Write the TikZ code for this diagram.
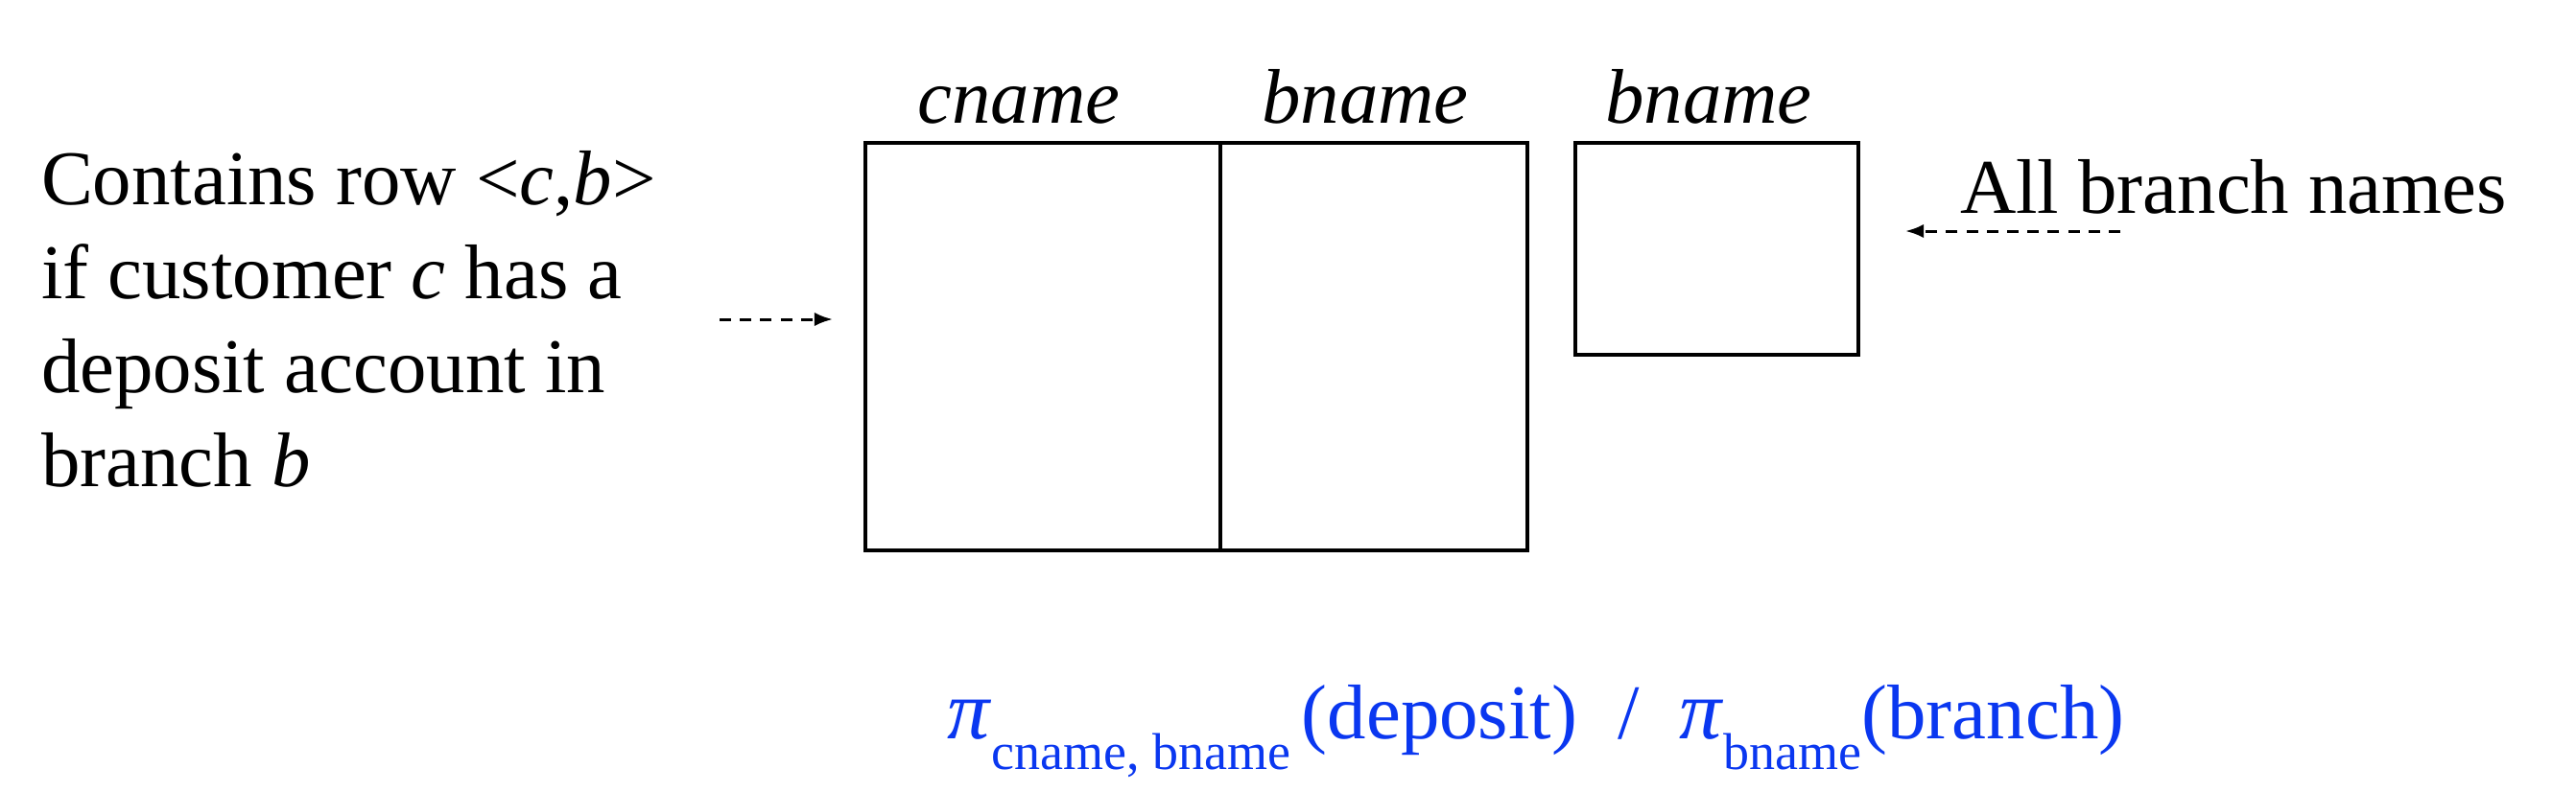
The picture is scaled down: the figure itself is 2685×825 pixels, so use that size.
\documentclass[tikz,border=0pt]{standalone}
\usepackage{fontspec}
\setmainfont{Liberation Serif}
\usetikzlibrary{arrows.meta}
\definecolor{formulablue}{RGB}{10,55,240}
\newcommand{\bigpi}{{\fontsize{22pt}{22pt}\selectfont\textit{π}}}
\tikzset{
  txt/.style={inner sep=0pt, outer sep=0pt, font=\fontsize{20.2pt}{24.5pt}\selectfont},
  col/.style={draw, line width=0.85pt, inner sep=0pt, outer sep=0pt},
  hint/.style={dashed, dash pattern=on 3pt off 2.3pt, line width=0.75pt, -{Latex[length=4.8pt,width=3.6pt]}}
}
\begin{document}
\begin{tikzpicture}[x=0.25pt, y=-0.25pt]
\useasboundingbox (0,0) rectangle (2685,825);
% left explanation
\node[txt, anchor=base west] (l1) at (43,213) {Contains row <\textit{c},\textit{b}>};
\node[txt, anchor=base west] (l2) at (43,311) {if customer \textit{c} has a};
\node[txt, anchor=base west] (l3) at (43,409) {deposit account in};
\node[txt, anchor=base west] (l4) at (43,507) {branch \textit{b}};
% relations
\node[col, minimum width=92.5pt, minimum height=106.25pt] (dep1) at (1087,361.5) {};
\node[col, minimum width=80pt, minimum height=106.25pt] (dep2) at (1432,361.5) {};
\node[col, minimum width=73.75pt, minimum height=55.25pt] (br) at (1789.5,259.5) {};
% column headings
\node[txt, anchor=base] (h1) at (1062,128) {\textit{cname}};
\node[txt, anchor=base] (h2) at (1423,128) {\textit{bname}};
\node[txt, anchor=base] (h3) at (1781,128) {\textit{bname}};
% right label
\node[txt, anchor=base west] (all) at (2043,222) {All branch names};
% arrows
\coordinate (la1) at (750,333);
\coordinate (la2) at (868,333);
\coordinate (ra1) at (2210,241);
\coordinate (ra2) at (1986,241);
\draw[hint] (la1) -- (la2);
\draw[hint] (ra1) -- (ra2);
% formula
\node[txt, anchor=base west, text=formulablue] (f) at (987,770)
  {\bigpi\raisebox{-8pt}{\fontsize{13.5pt}{14pt}\selectfont cname, bname}\hspace{3pt}(deposit)\hspace{10.5pt}/\hspace{10.5pt}\bigpi\raisebox{-8pt}{\fontsize{13.5pt}{14pt}\selectfont bname}(branch)};
\end{tikzpicture}
\end{document}
